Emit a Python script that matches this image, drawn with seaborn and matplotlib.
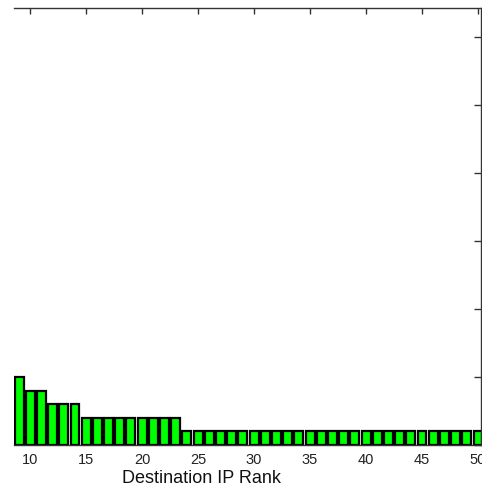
import matplotlib
matplotlib.use("Agg")
import matplotlib.pyplot as plt
import seaborn as sns
import pandas as pd

# Data (ranks visible in the cropped view)
ranks = list(range(9, 51))
counts = [5] + [4] * 2 + [3] * 3 + [2] * 9 + [1] * 27
xticks = [10, 15, 20, 25, 30, 35, 40, 45, 50]
yticks = [0, 5, 10, 15, 20, 25, 30]

df = pd.DataFrame({"rank": ranks, "count": counts})

sns.set_theme(style="white")
plt.rcParams['font.family'] = ['Liberation Sans', 'DejaVu Sans']

W, H = 482, 487
fig = plt.figure(figsize=(W / 100, H / 100), dpi=100)
ax = fig.add_axes([14 / W, 1 - 445 / H, (481 - 14) / W, (445 - 8.3) / H])

sns.barplot(data=df, x="rank", y="count", native_scale=True, color="#00ff00",
            saturation=1, edgecolor="black", linewidth=1.6, width=0.8, ax=ax)

ax.set_xlim(8.55, 50.27)
ax.set_ylim(0, 32.1)
ax.set_xticks(xticks)
ax.set_xticklabels([str(t) for t in xticks], fontsize=10.5, color="#222222")
ax.set_yticks(yticks)
ax.set_yticklabels([])
ax.set_ylabel("")
ax.set_xlabel("Destination IP Rank", fontsize=13, color="#111111")
ax.xaxis.set_label_coords((202 - 14) / 467, -0.057)

for s in ["top", "right", "bottom"]:
    ax.spines[s].set_visible(True)
    ax.spines[s].set_color("#333333")
    ax.spines[s].set_linewidth(1.0)
ax.spines["left"].set_visible(False)

ax.tick_params(axis="x", which="both", direction="in", top=True, bottom=False,
               length=4, width=1, color="#333333", pad=6)
ax.tick_params(axis="y", which="both", direction="in", left=False, right=True,
               length=5, width=1, color="#333333", labelright=False, labelleft=False)

fig.savefig("out.png", dpi=100)
